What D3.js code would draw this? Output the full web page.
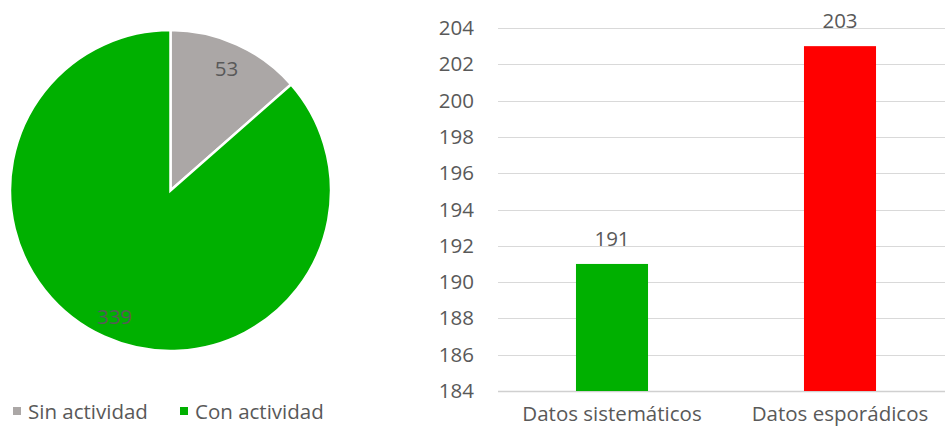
<!DOCTYPE html>
<html><head><meta charset="utf-8">
<script src="https://cdn.jsdelivr.net/npm/d3@7"></script>
<style>body{margin:0;background:#fff}text{font-family:"Open Sans",sans-serif;fill:#595959}</style>
</head><body>
<svg id="c" width="945" height="430"></svg>
<script>
const pieLabels = ["Sin actividad", "Con actividad"];
const pieValues = [53, 339];
const pieColors = ["#ABA7A6", "#00B000"];
const barCategories = ["Datos sistemáticos", "Datos esporádicos"];
const barValues = [191, 203];
const barColors = ["#00B000", "#FF0000"];
const yTicks = [184,186,188,190,192,194,196,198,200,202,204];

const svg = d3.select("#c");
const fs = 20.5;
const ff = "'Open Sans',sans-serif";

// Pie
const cx = 170.5, cy = 190.5, r = 160.5;
const pie = d3.pie().sort(null)(pieValues);
const arc = d3.arc().innerRadius(0).outerRadius(r);
const g = svg.append("g").attr("transform", `translate(${cx},${cy})`);
g.selectAll("path").data(pie).enter().append("path")
  .attr("d", arc).attr("fill", (d,i)=>pieColors[i])
  .attr("stroke", "#fff").attr("stroke-width", 2.5);
const labelPos = [[56, -123], [-56, 125]];
g.selectAll("text.v").data(pie).enter().append("text")
  .attr("x", (d,i)=>labelPos[i][0]).attr("y", (d,i)=>labelPos[i][1])
  .attr("text-anchor", "middle").attr("dominant-baseline", "central")
  .attr("font-size", fs).text(d=>d.data);

// Legend
const leg = svg.append("g");
const legX = [13, 180];
pieLabels.forEach((l,i)=>{
  leg.append("rect").attr("x", legX[i]).attr("y", 407).attr("width", 8).attr("height", 8).attr("fill", pieColors[i]);
  leg.append("text").attr("x", legX[i]+15).attr("y", 419).attr("font-size", fs).text(l);
});

// Bars
const y = d3.scaleLinear().domain([184, 204]).range([391, 28]);
const x = d3.scaleBand().domain(barCategories).range([498, 954]).paddingInner(0.684).paddingOuter(0.342);
svg.append("g").selectAll("line").data(yTicks).enter().append("line")
  .attr("x1", 498).attr("x2", 945).attr("y1", d=>Math.round(y(d))+0.5).attr("y2", d=>Math.round(y(d))+0.5)
  .attr("stroke", d=>d===184?"#D0D0D0":"#D9D9D9").attr("stroke-width", d=>d===184?1.5:1);
const yAxis = d3.axisLeft(y).tickValues(yTicks).tickSize(0).tickPadding(0);
const ya = svg.append("g").attr("transform", "translate(474,0)").call(yAxis);
ya.select(".domain").remove();
ya.selectAll("text").attr("font-size", fs).attr("fill", "#595959").style("font-family", ff);

svg.append("g").selectAll("rect").data(barValues).enter().append("rect")
  .attr("x", (d,i)=>x(barCategories[i])).attr("width", x.bandwidth())
  .attr("y", d=>y(d)).attr("height", d=>y(184)-y(d)).attr("fill", (d,i)=>barColors[i]);
svg.append("g").selectAll("text").data(barValues).enter().append("text")
  .attr("x", (d,i)=>x(barCategories[i])+x.bandwidth()/2).attr("y", d=>y(d)-18)
  .attr("text-anchor", "middle").attr("font-size", fs).text(d=>d);

const xAxis = d3.axisBottom(x).tickSize(0).tickPadding(0);
const xa = svg.append("g").attr("transform", "translate(0,403)").call(xAxis);
xa.select(".domain").remove();
xa.selectAll("text").attr("font-size", fs).attr("fill", "#595959").attr("dy", "0.9em").style("font-family", ff);
</script>
</body></html>
